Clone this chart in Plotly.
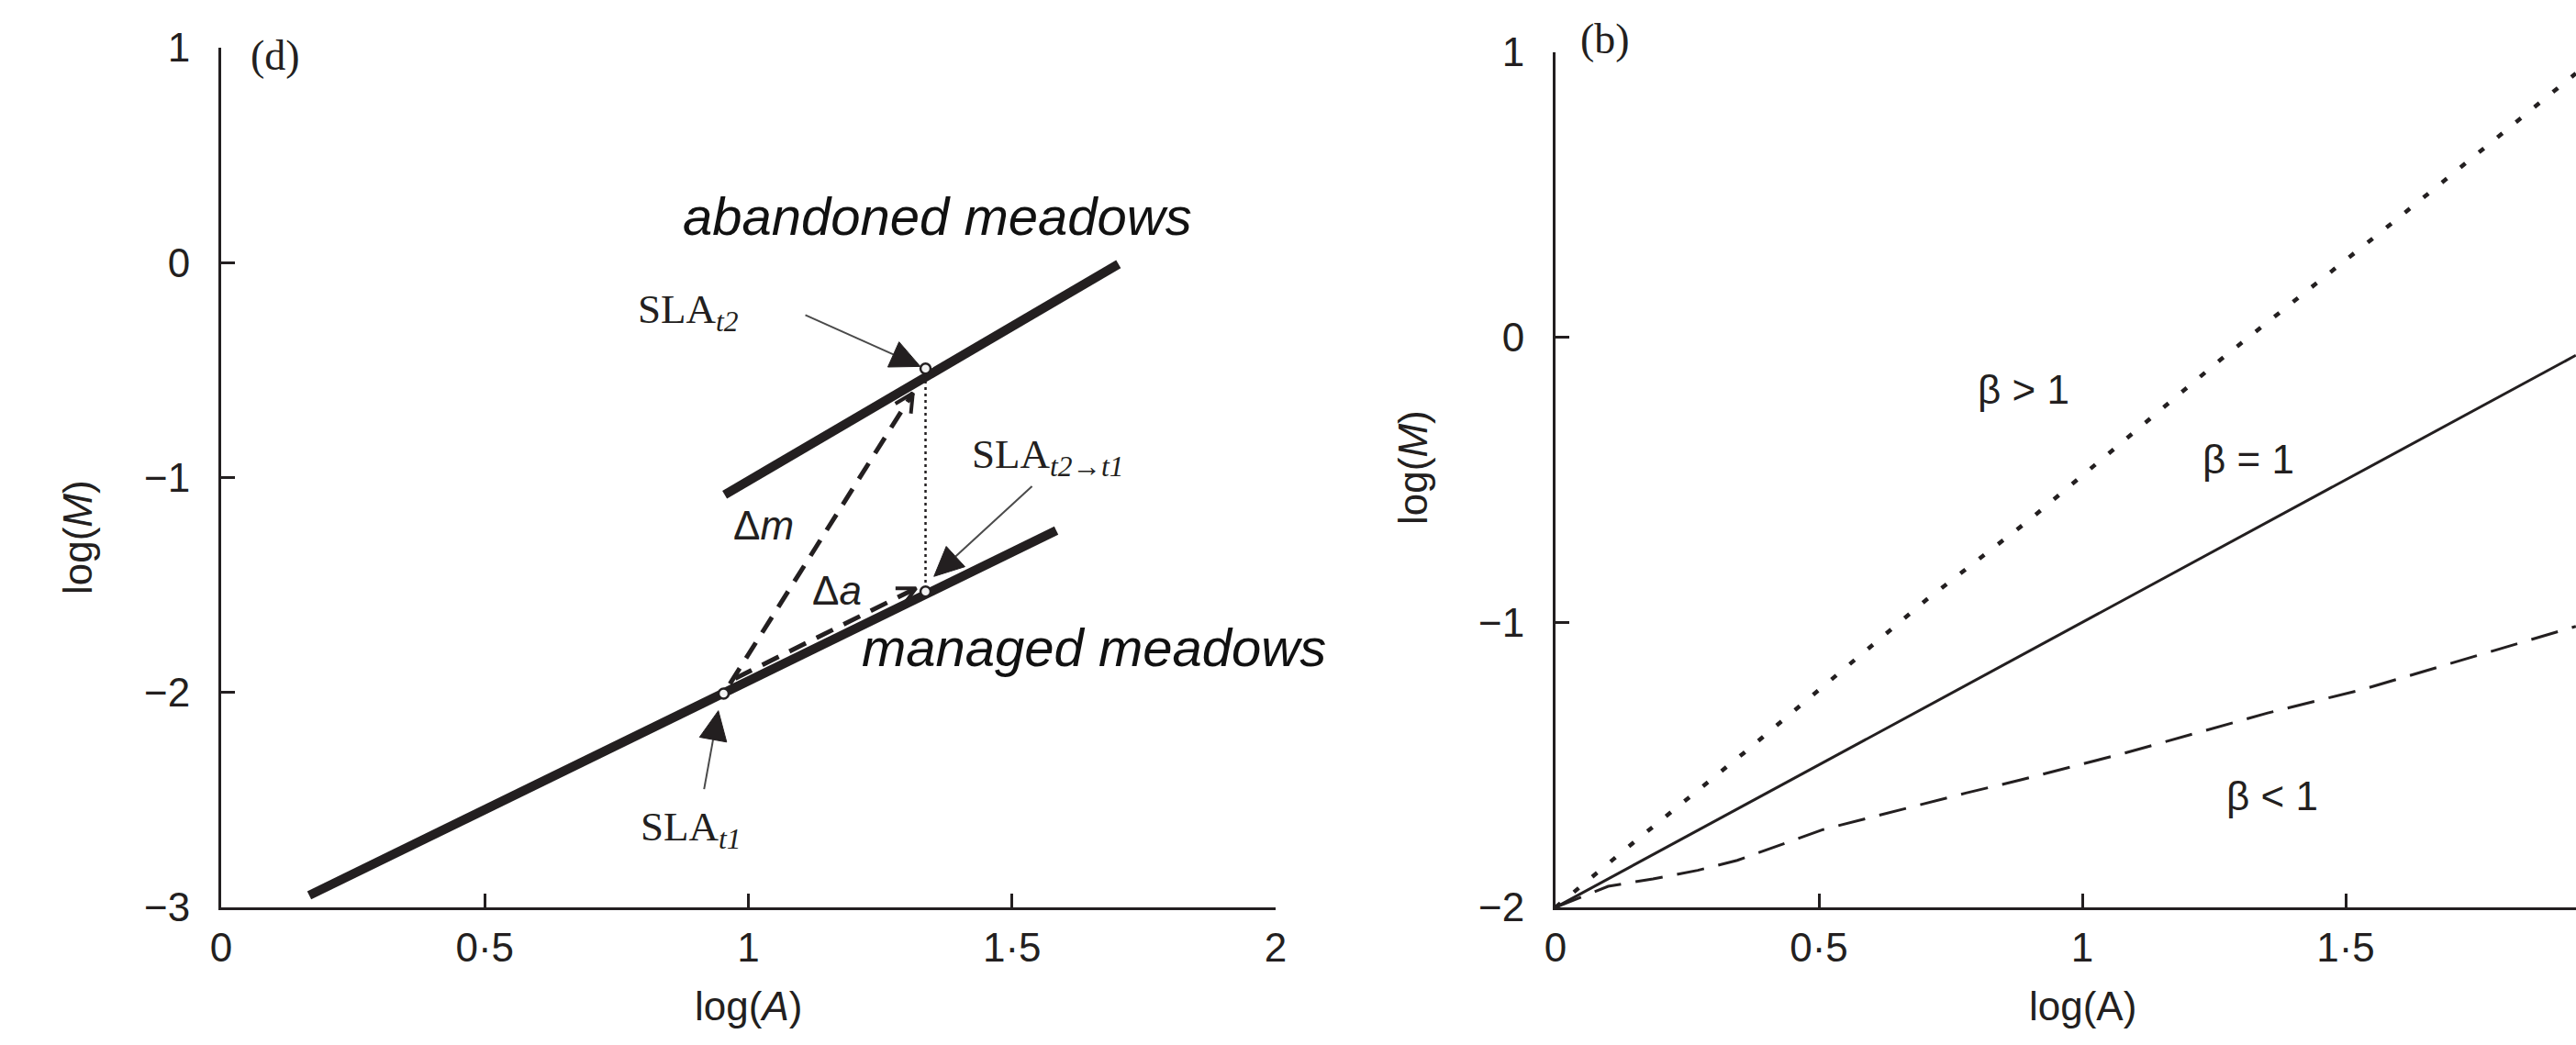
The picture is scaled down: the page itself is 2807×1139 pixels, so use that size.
import math
import plotly.graph_objects as go

INK = "#231f20"
SANS = "Liberation Sans, Arial, sans-serif"
SERIF = "Liberation Serif, Times New Roman, serif"

# ---------------- Panel (d) data ----------------
managed_x = [0.167, 1.584]
managed_y = [-2.944, -1.247]
abandoned_x = [0.955, 1.702]
abandoned_y = [-1.080, -0.007]
sla_pts_x = [0.953, 1.336, 1.336]          # SLA t1, SLA t2, SLA t2->t1
sla_pts_y = [-2.005, -0.493, -1.530]
dm_x = [0.965, 1.312]                      # delta m dashed arrow
dm_y = [-1.960, -0.607]
da_x = [0.975, 1.318]                      # delta a dashed arrow
da_y = [-1.935, -1.515]
vdot_x = [1.336, 1.336]
vdot_y = [-0.52, -1.50]
# pointer arrows: tail (x, y) -> tip (x, y)   [SLA t2, SLA t2->t1, SLA t1]
ptr_tail_x = [1.108, 1.538, 0.916]
ptr_tail_y = [-0.244, -1.041, -2.45]
ptr_tip_x = [1.326, 1.352, 0.943]
ptr_tip_y = [-0.483, -1.460, -2.085]

x_ticks_d = [0, 0.5, 1, 1.5, 2]
x_ticktext = ["0", "0·5", "1", "1·5", "2"]
y_ticks_d = [1, 0, -1, -2, -3]

# ---------------- Panel (b) data ----------------
b_gt_x = [0, 0.049, 0.09, 0.134, 0.357, 0.704, 0.900, 1.262, 1.591, 1.937]
b_gt_y = [-2, -1.925, -1.858, -1.794, -1.459, -0.921, -0.640, -0.079, 0.405, 0.926]
b_eq_x = [0, 1.937]
b_eq_y = [-2, -0.063]
b_lt_x = [0, 0.10, 0.185, 0.27, 0.345, 0.508, 0.779, 0.885, 1.080, 1.352, 1.533, 1.937]
b_lt_y = [-2, -1.926, -1.900, -1.870, -1.835, -1.727, -1.599, -1.552, -1.459, -1.318, -1.235, -1.014]
x_ticks_b = [0, 0.5, 1, 1.5, 2]
y_ticks_b = [1, 0, -1, -2]

# pixel scales of panel (d) (px per data unit) used to shape arrowheads
SX, SY = 574.5, 234.25

def head_geom(x0, y0, x1, y1, length, half_w):
    dxp = (x1 - x0) * SX
    dyp = (y1 - y0) * SY
    L = math.hypot(dxp, dyp)
    ux, uy = dxp / L, dyp / L
    px, py = -uy, ux
    bx, by = -ux * length, -uy * length
    a = (x1 + (bx + px * half_w) / SX, y1 + (by + py * half_w) / SY)
    b = (x1 + (bx - px * half_w) / SX, y1 + (by - py * half_w) / SY)
    base = (x1 + bx / SX, y1 + by / SY)
    return a, b, base

fig = go.Figure()

# panel d traces
fig.add_trace(go.Scatter(x=managed_x, y=managed_y, mode="lines",
                         line=dict(color=INK, width=10), xaxis="x", yaxis="y"))
fig.add_trace(go.Scatter(x=abandoned_x, y=abandoned_y, mode="lines",
                         line=dict(color=INK, width=10), xaxis="x", yaxis="y"))
fig.add_trace(go.Scatter(x=vdot_x, y=vdot_y, mode="lines",
                         line=dict(color=INK, width=2.5, dash="3px,4px"), xaxis="x", yaxis="y"))
fig.add_trace(go.Scatter(x=dm_x, y=dm_y, mode="lines",
                         line=dict(color=INK, width=5, dash="20px,13px"), xaxis="x", yaxis="y"))
fig.add_trace(go.Scatter(x=da_x, y=da_y, mode="lines",
                         line=dict(color=INK, width=5, dash="20px,13px"), xaxis="x", yaxis="y"))
# chevron heads of dashed arrows
for xs, ys in ((dm_x, dm_y), (da_x, da_y)):
    a, b, _ = head_geom(xs[0], ys[0], xs[1], ys[1], 20, 10)
    fig.add_trace(go.Scatter(x=[a[0], xs[1], b[0]], y=[a[1], ys[1], b[1]], mode="lines",
                             line=dict(color=INK, width=4), xaxis="x", yaxis="y"))
# pointer arrows with filled triangular heads
for i in range(3):
    a, b, base = head_geom(ptr_tail_x[i], ptr_tail_y[i], ptr_tip_x[i], ptr_tip_y[i], 32, 15)
    fig.add_trace(go.Scatter(x=[ptr_tail_x[i], base[0]], y=[ptr_tail_y[i], base[1]], mode="lines",
                             line=dict(color="#4a4a4a", width=2), xaxis="x", yaxis="y"))
    fig.add_trace(go.Scatter(x=[a[0], ptr_tip_x[i], b[0], a[0]], y=[a[1], ptr_tip_y[i], b[1], a[1]],
                             mode="lines", fill="toself", fillcolor=INK,
                             line=dict(color=INK, width=1), xaxis="x", yaxis="y"))
fig.add_trace(go.Scatter(x=sla_pts_x, y=sla_pts_y, mode="markers",
                         marker=dict(size=11, color="#f2f2f2", line=dict(color=INK, width=2.5)),
                         xaxis="x", yaxis="y", cliponaxis=False))

# panel b traces
fig.add_trace(go.Scatter(x=b_gt_x, y=b_gt_y, mode="lines",
                         line=dict(color=INK, width=4.5, dash="7px,19px"), xaxis="x2", yaxis="y2"))
fig.add_trace(go.Scatter(x=b_eq_x, y=b_eq_y, mode="lines",
                         line=dict(color=INK, width=3), xaxis="x2", yaxis="y2"))
fig.add_trace(go.Scatter(x=b_lt_x, y=b_lt_y, mode="lines",
                         line=dict(color=INK, width=3, dash="30px,16px"), xaxis="x2", yaxis="y2"))

axis_common = dict(showline=True, linecolor=INK, linewidth=3, ticks="inside", ticklen=15,
                   tickwidth=3, tickcolor=INK, showgrid=False, zeroline=False, automargin=False,
                   tickfont=dict(family=SANS, size=44, color=INK))

fig.update_layout(
    width=2807, height=1139, margin=dict(l=0, r=0, t=0, b=0, autoexpand=False),
    paper_bgcolor="white", plot_bgcolor="white", showlegend=False,
    xaxis=dict(domain=[241/2807, 1390/2807], range=[0, 2], anchor="y",
               tickvals=x_ticks_d, ticktext=x_ticktext, ticklabelstandoff=3, **axis_common),
    yaxis=dict(domain=[(1139-989)/1139, (1139-52)/1139], range=[-3, 1], anchor="x",
               tickvals=y_ticks_d, ticklabelstandoff=22, **axis_common),
    xaxis2=dict(domain=[1695/2807, 1.0], range=[0, (2807-1695)/574.0], anchor="y2",
                tickvals=x_ticks_b, ticktext=x_ticktext, ticklabelstandoff=3, **axis_common),
    yaxis2=dict(domain=[(1139-989)/1139, (1139-57)/1139], range=[-2, 1], anchor="x2",
                tickvals=y_ticks_b, ticklabelstandoff=22, **axis_common),
)

C = dict(xanchor="center", yanchor="middle", showarrow=False)
ann = []
# axis titles
ann.append(dict(text="log(<i>A</i>)", xref="x", yref="paper", x=1.0, y=1-1096/1139,
                font=dict(family=SANS, size=44, color=INK), **C))
ann.append(dict(text="log(A)", xref="x2", yref="paper", x=1.0, y=1-1096/1139,
                font=dict(family=SANS, size=44, color=INK), **C))
ann.append(dict(text="log(<i>M</i>)", xref="paper", yref="y", x=84/2807, y=-1.28,
                textangle=-90, font=dict(family=SANS, size=44, color=INK), **C))
ann.append(dict(text="log(<i>M</i>)", xref="paper", yref="y2", x=1540/2807, y=-0.458,
                textangle=-90, font=dict(family=SANS, size=44, color=INK), **C))
# panel labels
ann.append(dict(text="(d)", xref="paper", yref="paper", x=300/2807, y=1-60/1139,
                font=dict(family=SERIF, size=46, color=INK), **C))
ann.append(dict(text="(b)", xref="paper", yref="paper", x=1749/2807, y=1-43/1139,
                font=dict(family=SERIF, size=46, color=INK), **C))
# panel d text
ann.append(dict(text="<i>abandoned meadows</i>", xref="x", yref="y", x=1.358, y=0.2145,
                font=dict(family=SANS, size=58, color="#111111"), **C))
ann.append(dict(text="<i>managed meadows</i>", xref="x", yref="y", x=1.655, y=-1.788,
                font=dict(family=SANS, size=58, color="#111111"), **C))
ann.append(dict(text="SLA<sub><i>t2</i></sub>", xref="x", yref="y", x=0.886, y=-0.229,
                font=dict(family=SERIF, size=45, color=INK), **C))
ann.append(dict(text="SLA<sub><i>t2→t1</i></sub>", xref="x", yref="y", x=1.569, y=-0.904,
                font=dict(family=SERIF, size=45, color=INK), **C))
ann.append(dict(text="SLA<sub><i>t1</i></sub>", xref="x", yref="y", x=0.891, y=-2.637,
                font=dict(family=SERIF, size=45, color=INK), **C))
ann.append(dict(text="Δ<i>m</i>", xref="x", yref="y", x=1.029, y=-1.224,
                font=dict(family=SANS, size=44, color=INK), **C))
ann.append(dict(text="Δ<i>a</i>", xref="x", yref="y", x=1.168, y=-1.523,
                font=dict(family=SANS, size=44, color=INK), **C))
# panel b labels
ann.append(dict(text="β > 1", xref="x2", yref="y2", x=0.889, y=-0.184,
                font=dict(family=SANS, size=44, color=INK), **C))
ann.append(dict(text="β = 1", xref="x2", yref="y2", x=1.315, y=-0.429,
                font=dict(family=SANS, size=44, color=INK), **C))
ann.append(dict(text="β < 1", xref="x2", yref="y2", x=1.361, y=-1.610,
                font=dict(family=SANS, size=44, color=INK), **C))
fig.update_layout(annotations=ann)

fig.write_html("out.html")
